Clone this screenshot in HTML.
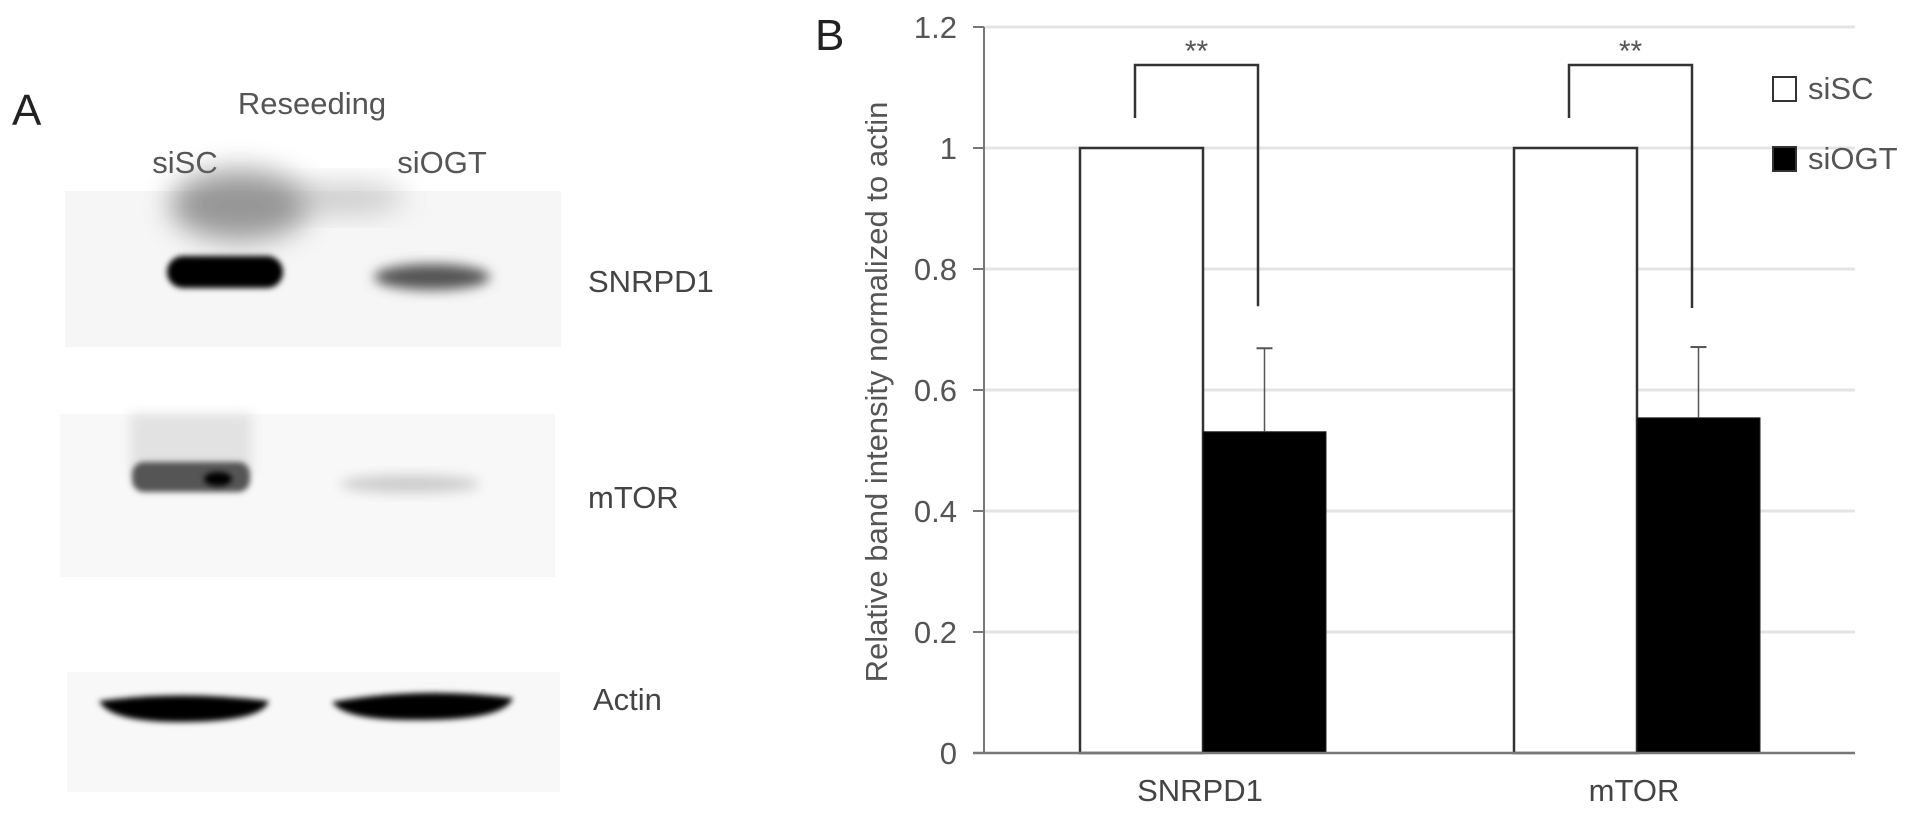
<!DOCTYPE html>
<html>
<head>
<meta charset="utf-8">
<style>
html,body{margin:0;padding:0;background:#fff;}
body{width:1913px;height:813px;overflow:hidden;font-family:"Liberation Sans",sans-serif;}
svg text{font-family:"Liberation Sans",sans-serif;}
</style>
</head>
<body>
<svg id="fig" width="1913" height="813" viewBox="0 0 1913 813" xmlns="http://www.w3.org/2000/svg">
<defs>
  <filter id="blur6" x="-50%" y="-50%" width="200%" height="200%"><feGaussianBlur stdDeviation="6"/></filter>
  <filter id="blur3" x="-50%" y="-50%" width="200%" height="200%"><feGaussianBlur stdDeviation="3"/></filter>
  <filter id="blur14" x="-50%" y="-50%" width="200%" height="200%"><feGaussianBlur stdDeviation="14"/></filter>
</defs>

<!-- Panel A -->
<g>
  <text x="12" y="125" font-size="44" fill="#222">A</text>
  <text x="312" y="114" font-size="31" fill="#555" text-anchor="middle">Reseeding</text>
  <text x="185" y="173" font-size="31" fill="#555" text-anchor="middle">siSC</text>
  <text x="442" y="173" font-size="31" fill="#555" text-anchor="middle">siOGT</text>

  <g>
    <rect x="65" y="191" width="496" height="156" fill="#f6f6f6"/>
    <ellipse cx="240" cy="205" rx="70" ry="35" fill="#777" filter="url(#blur14)" opacity="0.75"/>
    <ellipse cx="345" cy="198" rx="60" ry="15" fill="#aaa" filter="url(#blur14)" opacity="0.6"/>
    <rect x="167" y="256" width="116" height="32" rx="16" fill="#000" filter="url(#blur3)"/>
    <ellipse cx="432" cy="277" rx="58" ry="13" fill="#555" filter="url(#blur6)"/>
  </g>
  <text x="588" y="292" font-size="31" fill="#444">SNRPD1</text>

  <g>
    <rect x="60" y="414" width="495" height="163" fill="#f8f8f8"/>
    <rect x="130" y="414" width="122" height="60" fill="#e2e2e2" filter="url(#blur6)"/>
    <rect x="132" y="462" width="118" height="30" rx="12" fill="#555" filter="url(#blur3)"/>
    <ellipse cx="218" cy="479" rx="14" ry="7" fill="#000" filter="url(#blur3)"/>
    <ellipse cx="410" cy="484" rx="70" ry="9" fill="#ccc" filter="url(#blur6)"/>
  </g>
  <text x="588" y="508" font-size="31" fill="#444">mTOR</text>

  <g>
    <rect x="67" y="672" width="493" height="120" fill="#f8f8f8"/>
    <path d="M99 701 Q180 690 269 701 Q262 722 180 722 Q110 722 99 701 Z" fill="#000" filter="url(#blur3)"/>
    <path d="M332 702 Q420 686 513 698 Q505 720 420 720 Q345 721 332 702 Z" fill="#000" filter="url(#blur3)"/>
  </g>
  <text x="593" y="710" font-size="31" fill="#444">Actin</text>
</g>

<!-- Panel B -->
<text x="815" y="50" font-size="44" fill="#222">B</text>
<g id="chart"></g>

</svg>
<script>
const categories = ["SNRPD1", "mTOR"];
const seriesNames = ["siSC", "siOGT"];
const siSCValues = [1.0, 1.0];
const siOGTValues = [0.531, 0.554];
const siOGTErrors = [0.138, 0.117];
const yTicks = [0, 0.2, 0.4, 0.6, 0.8, 1, 1.2];
const yTickLabels = ["0", "0.2", "0.4", "0.6", "0.8", "1", "1.2"];
const sigLabels = ["**", "**"];

const NS = "http://www.w3.org/2000/svg";
const g = document.getElementById("chart");
const X0 = 984, X1 = 1855, Y0 = 753, Y1 = 27, YMAX = 1.2;
const yScale = v => Y0 - (v / YMAX) * (Y0 - Y1);
const groupCenters = [1203, 1637];
const barW = 123;
const xBar = (ci, si) => groupCenters[ci] - barW + si * barW;

function mk(tag, attrs, parent) {
  const e = document.createElementNS(NS, tag);
  for (const k in attrs) e.setAttribute(k, attrs[k]);
  (parent || g).appendChild(e);
  return e;
}

yTicks.forEach((t, i) => {
  const y = yScale(t);
  if (t > 0) {
    const gl = mk("line", {x1: X0, x2: X1, y1: y, y2: y, stroke: "#e4e4e4", "stroke-width": 3});
    
    
  }
  const tk = mk("line", {x1: X0 - 11, x2: X0, y1: y, y2: y, stroke: "#777", "stroke-width": 2});
  
  
  const tl = mk("text", {x: 957, y: y + 11, "font-size": 31, fill: "#555", "text-anchor": "end"});
  tl.textContent = yTickLabels[i];
  
  
});

const ya = mk("line", {x1: X0, x2: X0, y1: Y1, y2: Y0, stroke: "#777", "stroke-width": 2});



categories.forEach((c, ci) => {
  const yS = yScale(siSCValues[ci]);
  const b1 = mk("rect", {x: xBar(ci, 0), y: yS, width: barW, height: Y0 - yS, fill: "#fff", stroke: "#333", "stroke-width": 2.5});
  
  
  const yO = yScale(siOGTValues[ci]);
  const b2 = mk("rect", {x: xBar(ci, 1), y: yO, width: barW, height: Y0 - yO, fill: "#000", stroke: "#222", "stroke-width": 1});
  
  
  const ex = xBar(ci, 1) + barW / 2;
  const ey = yScale(siOGTValues[ci] + siOGTErrors[ci]);
  const el = mk("line", {x1: ex, x2: ex, y1: ey, y2: yO, stroke: "#555", "stroke-width": 1.5});
  
  
  const ec = mk("line", {x1: ex - 8, x2: ex + 8, y1: ey, y2: ey, stroke: "#555", "stroke-width": 2});
  
  
  const lx = xBar(ci, 0) + 55, rx = xBar(ci, 1) + 55;
  const topY = yScale(siSCValues[ci]) - 83;
  const lBot = yScale(siSCValues[ci]) - 30;
  const rBot = yScale(siOGTValues[ci] + siOGTErrors[ci]) - 42 + (ci === 1 ? 3 : 0);
  const br = mk("polyline", {points: `${lx},${lBot} ${lx},${topY} ${rx},${topY} ${rx},${rBot}`, fill: "none", stroke: "#333", "stroke-width": 2.5});
  
  
  const st = mk("text", {x: (lx + rx) / 2, y: topY - 4, "font-size": 30, fill: "#555", "text-anchor": "middle"});
  st.textContent = sigLabels[ci];
  
  
  const cl = mk("text", {x: groupCenters[ci] - 3, y: 801, "font-size": 31, fill: "#444", "text-anchor": "middle"});
  cl.textContent = c;
  
  
});

const xa = mk("line", {x1: X0 - 11, x2: X1, y1: Y0, y2: Y0, stroke: "#777", "stroke-width": 2.5});



const yt = mk("text", {x: 0, y: 0, "font-size": 31, fill: "#555", "text-anchor": "middle", transform: "translate(887,392) rotate(-90)"});
yt.textContent = "Relative band intensity normalized to actin";



const legendY = [77, 147];
seriesNames.forEach((s, i) => {
  const r = mk("rect", {x: 1773, y: legendY[i], width: 23, height: 24, fill: i === 0 ? "#fff" : "#000", stroke: "#333", "stroke-width": 2});
  
  
  const t = mk("text", {x: 1808, y: legendY[i] + 22, "font-size": 31, fill: "#555"});
  t.textContent = s;
  
  
});
</script>
</body>
</html>
